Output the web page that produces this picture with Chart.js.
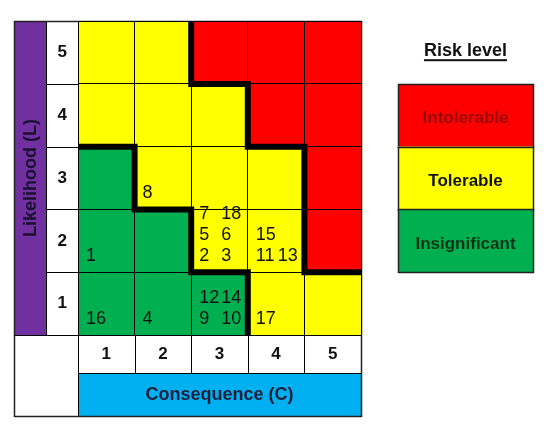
<!DOCTYPE html>
<html>
<head>
<meta charset="utf-8">
<title>Risk matrix</title>
<script src="https://cdn.jsdelivr.net/npm/chart.js@4.4.1/dist/chart.umd.min.js"></script>
<style>
  html, body { margin: 0; padding: 0; background: #fff; }
  #wrap { width: 550px; height: 434px; position: relative; }
</style>
</head>
<body>
<div id="wrap"><canvas id="riskChart"></canvas></div>
<script>
// Risk matrix data
const consequenceTicks = [1, 2, 3, 4, 5];
const likelihoodTicks = [1, 2, 3, 4, 5];
const riskLevels = ['Insignificant', 'Tolerable', 'Intolerable'];
const riskColors = ['#00B050', '#FFFF00', '#FF0000'];
const riskTextColors = ['#0c3414', '#111111', '#980808'];

// risk level index of each cell, one array per likelihood (C1..C5)
const riskL1 = [0, 0, 0, 1, 1];
const riskL2 = [0, 0, 1, 1, 2];
const riskL3 = [0, 1, 1, 1, 2];
const riskL4 = [1, 1, 1, 2, 2];
const riskL5 = [1, 1, 2, 2, 2];
const riskRows = [riskL1, riskL2, riskL3, riskL4, riskL5];

// hazards placed in the matrix
const hazardIds         = [1, 2, 3, 4, 5, 6, 7, 8, 9, 10, 11, 12, 13, 14, 15, 16, 17, 18];
const hazardConsequence = [1, 3, 3, 2, 3, 3, 3, 2, 3, 3, 4, 3, 4, 3, 4, 1, 4, 3];
const hazardLikelihood  = [2, 2, 2, 1, 2, 2, 2, 3, 1, 1, 2, 1, 2, 1, 2, 1, 1, 2];

// thick borders between risk levels, in consequence / likelihood units
const intolerableEdgeC   = [2.5, 2.5, 3.5, 3.5, 4.5, 4.5, 5.5];
const intolerableEdgeL   = [5.5, 4.5, 4.5, 3.5, 3.5, 1.5, 1.5];
const insignificantEdgeC = [0.5, 1.5, 1.5, 2.5, 2.5, 3.5, 3.5];
const insignificantEdgeL = [3.5, 3.5, 2.5, 2.5, 1.5, 1.5, 0.5];

const FONT = '"Liberation Sans", Arial, sans-serif';
Chart.defaults.font.family = FONT;

const cellDatasets = likelihoodTicks.map((l, r) => ({
    type: 'bar',
    label: 'L' + l,
    data: consequenceTicks.map(c => ({ x: c, y: [l - 0.5, l + 0.5] })),
    backgroundColor: riskRows[r].map(k => riskColors[k]),
    borderWidth: 0,
    grouped: false,
    barPercentage: 1,
    categoryPercentage: 1,
    order: 2
}));

function edgeDataset(cs, ls) {
    return {
        type: 'line',
        data: cs.map((c, i) => ({ x: c, y: ls[i] })),
        borderColor: '#000',
        borderWidth: 6,
        pointRadius: 0,
        fill: false,
        tension: 0,
        borderJoinStyle: 'miter',
        borderCapStyle: 'butt',
        order: 1
    };
}

// bands, tick cells and frame around the matrix
const matrixFrame = {
    id: 'matrixFrame',
    beforeDraw(chart) {
        const { ctx, chartArea: a, scales: { x, y } } = chart;
        const px = v => Math.round(v) + 0.5;
        const bandW = 32;
        const bandH = 43;
        ctx.save();
        ctx.fillStyle = '#7030A0';
        ctx.fillRect(y.left, a.top, bandW, a.bottom - a.top);
        ctx.fillStyle = '#00B0F0';
        ctx.fillRect(a.left, x.bottom - bandH, a.right - a.left, bandH);

        ctx.strokeStyle = '#000';
        ctx.lineWidth = 1;
        ctx.beginPath();
        likelihoodTicks.forEach(l => {
            const yy = px(y.getPixelForValue(l + 0.5));
            ctx.moveTo(y.left + bandW, yy);
            ctx.lineTo(a.left, yy);
        });
        consequenceTicks.forEach(c => {
            const xx = px(x.getPixelForValue(c + 0.5));
            ctx.moveTo(xx, a.bottom);
            ctx.lineTo(xx, x.bottom - bandH);
        });
        ctx.moveTo(px(y.left + bandW), a.top);
        ctx.lineTo(px(y.left + bandW), a.bottom);
        ctx.moveTo(y.left, px(a.bottom));
        ctx.lineTo(a.right, px(a.bottom));
        ctx.moveTo(a.left, px(x.bottom - bandH));
        ctx.lineTo(a.right, px(x.bottom - bandH));
        ctx.moveTo(px(a.left), a.bottom);
        ctx.lineTo(px(a.left), x.bottom);
        ctx.stroke();
        ctx.lineWidth = 1.5;
        ctx.strokeStyle = '#222';
        ctx.strokeRect(px(y.left), px(a.top), Math.round(a.right - y.left), Math.round(x.bottom - a.top));
        ctx.restore();
    },
    afterDraw(chart) {
        const { ctx, chartArea: a, scales: { x, y } } = chart;
        ctx.save();

        // hazard numbers, two per line, filled from the bottom of the cell
        const cells = {};
        hazardIds.forEach((id, i) => {
            const key = hazardConsequence[i] + '-' + hazardLikelihood[i];
            (cells[key] = cells[key] || []).push(id);
        });
        ctx.font = '18px ' + FONT;
        ctx.fillStyle = '#111';
        ctx.textAlign = 'left';
        ctx.textBaseline = 'middle';
        Object.keys(cells).forEach(key => {
            const [c, l] = key.split('-').map(Number);
            const left = x.getPixelForValue(c - 0.5);
            const bottom = y.getPixelForValue(l - 0.5);
            cells[key].sort((p, q) => p - q).forEach((id, k) => {
                ctx.fillText(String(id), left + 8 + (k % 2) * 22, bottom - 16 - Math.floor(k / 2) * 21);
            });
        });

        // risk level key
        const lx = a.right + 37;
        const lw = 135;
        const cx = lx + lw / 2;
        ctx.textAlign = 'center';
        ctx.font = 'bold 18px ' + FONT;
        ctx.fillStyle = '#111';
        ctx.fillText('Risk level', cx, a.top + 30);
        const tw = ctx.measureText('Risk level').width;
        ctx.fillRect(cx - tw / 2, a.top + 38, tw, 2);

        ctx.font = 'bold 17px ' + FONT;
        for (let k = 0; k < riskLevels.length; k++) {
            const lvl = riskLevels.length - 1 - k;
            const top = y.getPixelForValue(4.5 - k);
            const bot = y.getPixelForValue(3.5 - k);
            ctx.fillStyle = riskColors[lvl];
            ctx.fillRect(lx, top, lw, bot - top);
            ctx.strokeStyle = '#222';
            ctx.lineWidth = 1.5;
            ctx.strokeRect(Math.round(lx) + 0.5, Math.round(top) + 0.5, lw, Math.round(bot - top));
            ctx.fillStyle = riskTextColors[lvl];
            ctx.fillText(riskLevels[lvl], cx, (top + bot) / 2 + 3);
        }
        ctx.restore();
    }
};

new Chart(document.getElementById('riskChart'), {
    type: 'bar',
    data: {
        datasets: [
            ...cellDatasets,
            edgeDataset(intolerableEdgeC, intolerableEdgeL),
            edgeDataset(insignificantEdgeC, insignificantEdgeL)
        ]
    },
    options: {
        responsive: true,
        maintainAspectRatio: false,
        animation: false,
        events: [],
        layout: { padding: { left: 14, top: 18, right: 189, bottom: 18 } },
        plugins: {
            legend: { display: false },
            tooltip: { enabled: false }
        },
        scales: {
            x: {
                type: 'linear',
                min: 0.5,
                max: 5.5,
                offset: false,
                afterBuildTicks: s => { s.ticks = consequenceTicks.map(v => ({ value: v })); },
                afterFit: s => { s.height = 81; },
                ticks: {
                    color: '#111',
                    font: { size: 17, weight: 'bold' },
                    padding: 9,
                    maxRotation: 0,
                    autoSkip: false,
                    z: 2,
                    callback: v => String(v)
                },
                grid: { offset: true, color: '#000', lineWidth: 1, drawTicks: false, z: 1 },
                border: { display: true, color: '#000', width: 1, z: 1 },
                title: {
                    display: true,
                    text: 'Consequence (C)',
                    color: '#1b1f3b',
                    font: { size: 18, weight: 'bold' },
                    padding: { top: 0, bottom: 10 }
                }
            },
            y: {
                type: 'linear',
                min: 0.5,
                max: 5.5,
                afterBuildTicks: s => { s.ticks = likelihoodTicks.map(v => ({ value: v })); },
                afterFit: s => { s.width = 64; },
                ticks: {
                    color: '#111',
                    font: { size: 17, weight: 'bold' },
                    padding: 11,
                    crossAlign: 'center',
                    autoSkip: false,
                    z: 2,
                    callback: v => String(v)
                },
                grid: { offset: true, color: '#000', lineWidth: 1, drawTicks: false, z: 1 },
                border: { display: true, color: '#000', width: 1, z: 1 },
                title: {
                    display: true,
                    text: 'Likelihood (L)',
                    color: '#1a1030',
                    font: { size: 18, weight: 'bold' },
                    padding: { top: 6, bottom: 0 }
                }
            }
        }
    },
    plugins: [matrixFrame]
});
</script>
</body>
</html>
